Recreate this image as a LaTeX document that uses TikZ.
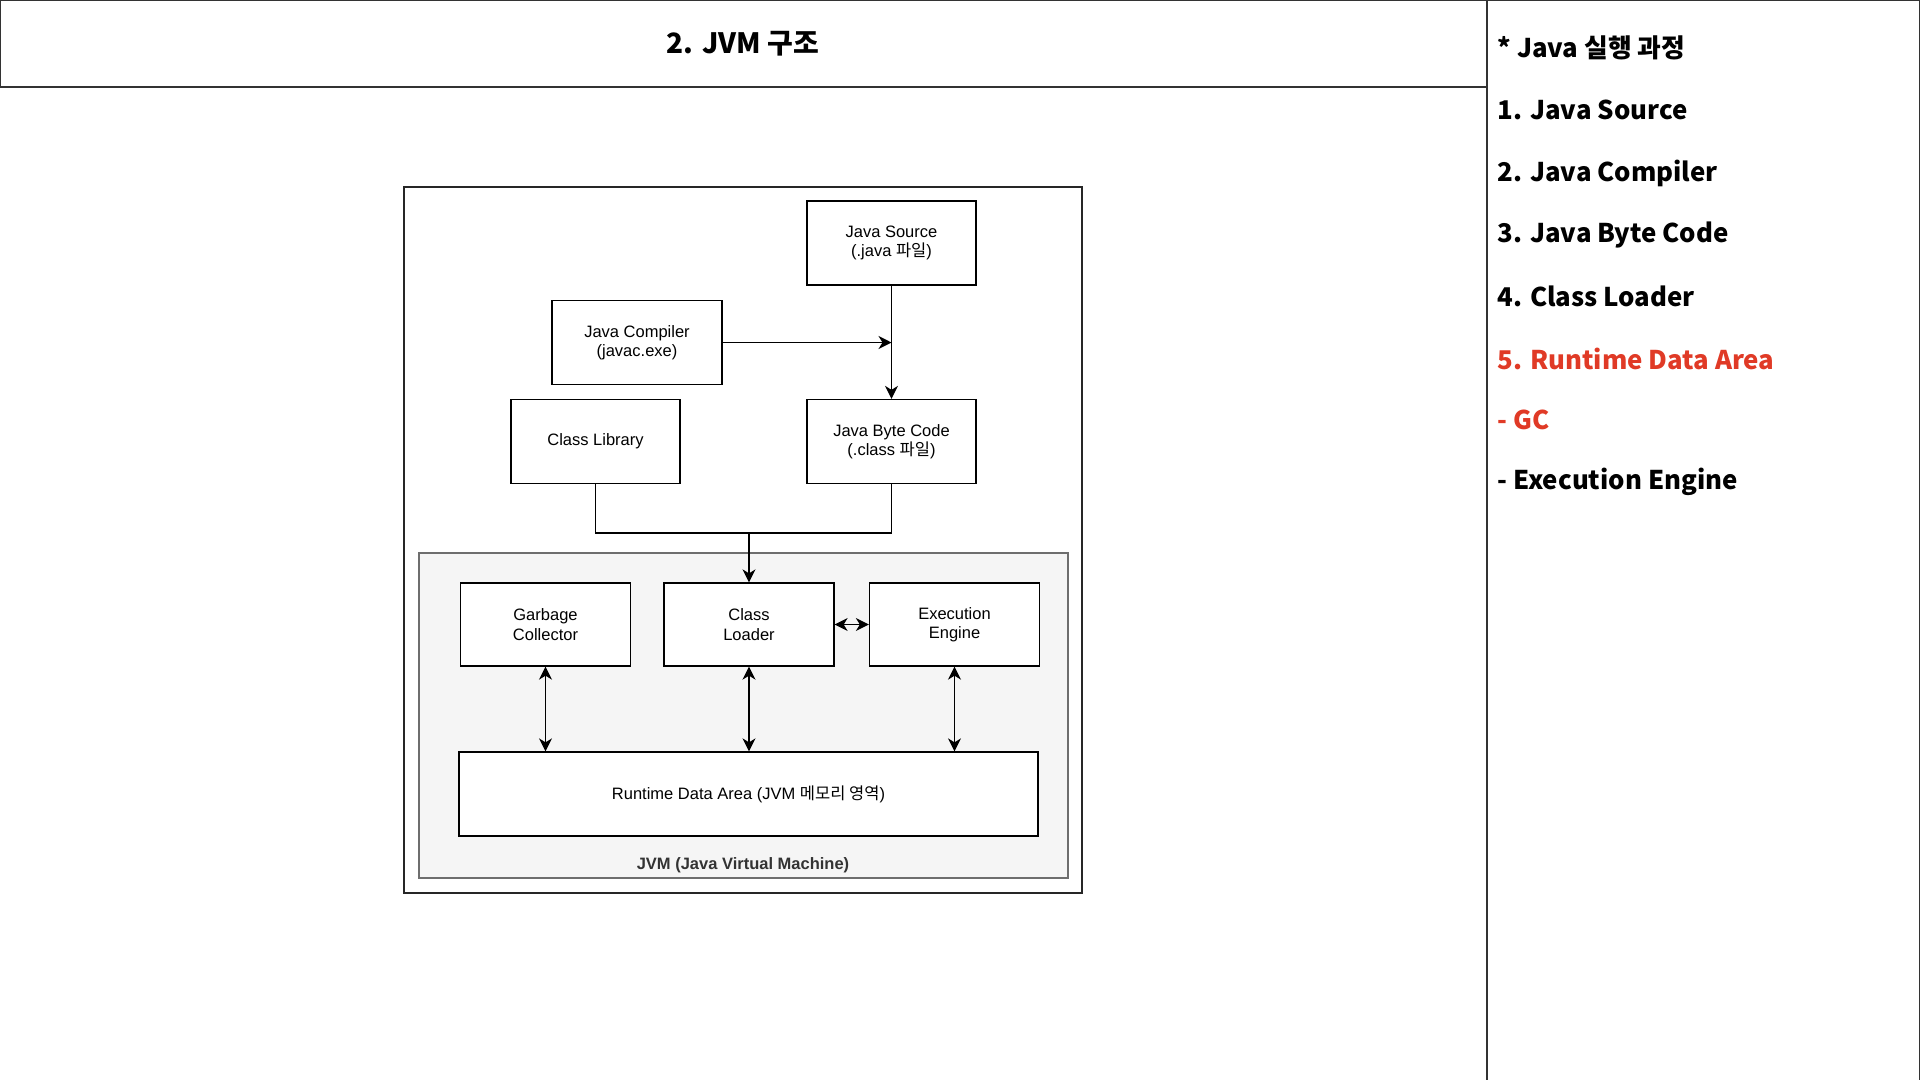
\documentclass[tikz,border=0pt]{standalone}
\usepackage{fontspec}
\setmainfont{Liberation Sans}
\newfontfamily\kr{Noto Sans CJK KR}
\usetikzlibrary{arrows.meta,positioning}
\definecolor{jvmgray}{RGB}{245,245,245}
\definecolor{jvmedge}{RGB}{110,110,110}
\definecolor{stepred}{RGB}{224,58,38}
\tikzset{
  jtip/.tip={Stealth[length=13pt, width=13pt, inset=4pt]},
  jbox/.style ={rectangle, draw=black, fill=white, line width=1.3pt,
                minimum width=169pt, minimum height=84pt, inner sep=0pt,
                align=center, font=\fontsize{16.5}{19.5}\selectfont},
  jarea/.style={rectangle, draw=jvmedge, fill=jvmgray, line width=1.2pt,
                minimum width=649pt, minimum height=325pt, inner sep=0pt},
  jframe/.style={rectangle, draw=black!85, line width=1.3pt,
                minimum width=678pt, minimum height=706pt, inner sep=0pt},
  jline/.style ={line width=1.3pt, black},
  jarrow/.style={jline, -{jtip}},
  jboth/.style ={jline, {jtip}-{jtip}},
  jpanel/.style={line width=1.2pt, black!80},
  ptitle/.style={font=\kr\bfseries\fontsize{28}{30}\selectfont},
  pitem/.style ={anchor=west, font=\kr\bfseries\fontsize{25.8}{30}\selectfont},
  pred/.style  ={pitem, text=stepred},
}
\begin{document}
\begin{tikzpicture}[x=1pt, y=-1pt]
\useasboundingbox (0,0) rectangle (1920,1080);
% header and side panel
\draw[jpanel] (0,0) rectangle (1487,87);
\draw[jpanel] (1487,0) -- (1919.4,0) -- (1919.4,1080);
\draw[jpanel] (1487,87) -- (1487,1080);
\node[ptitle] (title) at (743,44) {2. JVM 구조};
\node[pitem] (p0) at (1494, 48) {* Java 실행 과정};
\node[pitem] (p1) at (1494,110) {1. Java Source};
\node[pitem] (p2) at (1494,173) {2. Java Compiler};
\node[pitem] (p3) at (1494,235) {3. Java Byte Code};
\node[pitem] (p4) at (1494,296) {4. Class Loader};
\node[pred]  (p5) at (1494,359) {5. Runtime Data Area};
\node[pred]  (p6) at (1494,420) {- GC};
\node[pitem] (p7) at (1494,482) {- Execution Engine};
% diagram
\node[jframe] (frame) at (743,540) {};
\node[jarea] (jvm) at (743.5,715.5) {};
\node[font=\bfseries\fontsize{16.5}{19.5}\selectfont, text=black!80] (jvmlabel) at (743,865) {JVM (Java Virtual Machine)};
\node[jbox] (src)  at (891.5,243)   {Java Source\\(.java {\kr 파일})};
\node[jbox, minimum width=170pt] (comp) at (637,342.5) {Java Compiler\\(javac.exe)};
\node[jbox] (lib)  at (595.5,441.5) {Class Library};
\node[jbox] (byte) at (891.5,441.5) {Java Byte Code\\(.class {\kr 파일})};
\node[jbox, minimum width=170pt, minimum height=83pt] (gc) at (545.5,624.5) {Garbage\\Collector};
\node[jbox, minimum width=170pt, minimum height=83pt] (cl) at (749,624.5) {Class\\Loader};
\node[jbox, minimum width=170pt, minimum height=83pt] (ee) at (954.5,624.5) {Execution\\Engine};
\node[jbox, minimum width=579pt] (rda) at (748.5,794) {Runtime Data Area (JVM {\kr 메모리 영역})};
\coordinate (join) at (src.south |- comp.east);
\coordinate (merge) at (749,533);
\draw[jarrow] (src) -- (byte);
\draw[jarrow] (comp) -- (join);
\draw[jline] (lib.south) |- (merge) -| (byte.south);
\draw[jarrow] (merge) -- (cl);
\draw[jboth] (cl) -- (ee);
\draw[jboth] (gc) -- (gc |- rda.north);
\draw[jboth] (cl) -- (cl |- rda.north);
\draw[jboth] (ee) -- (ee |- rda.north);
\end{tikzpicture}
\end{document}
